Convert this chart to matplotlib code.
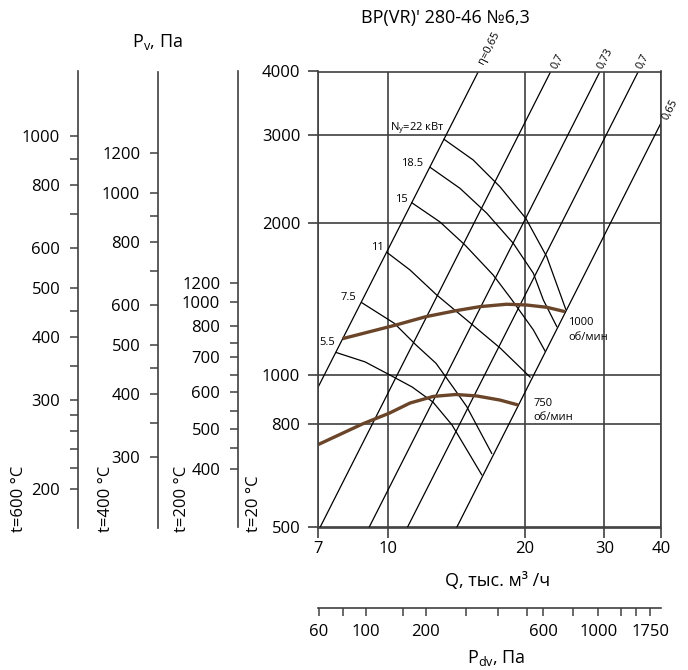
import matplotlib
matplotlib.use('Agg')
import matplotlib.pyplot as plt
from matplotlib.ticker import NullLocator

# --- данные ---
q_ticks = [7, 10, 20, 30, 40]
p_ticks = [500, 800, 1000, 2000, 3000, 4000]

# линии КПД (концы отрезков), Q тыс. м3/ч и Pv Па
eta_labels = ['η=0,65', '0,7', '0,73', '0,7', '0,65']
eta_q = [[15.8, 7.0], [22.83, 7.06], [29.33, 9.06], [35.64, 11.01], [40.0, 14.15]]
eta_p = [[4000, 950], [4000, 500], [4000, 500], [4000, 500], [3163, 500]]

# линии мощности N, кВт
power_labels = ['22', '18.5', '15', '11', '7.5', '5.5']
power_q = [
    [13.27, 15.39, 17.64, 20.11, 22.37, 24.64],
    [12.36, 14.39, 16.49, 18.87, 20.90, 21.99, 23.54],
    [11.26, 13.00, 14.76, 17.04, 18.75, 20.90, 22.18],
    [9.94, 11.16, 12.78, 14.89, 17.64, 20.55],
    [8.73, 10.30, 11.51, 12.74, 13.87, 14.89, 16.91],
    [7.68, 8.88, 10.08, 11.28, 12.54, 13.82, 16.07],
]
power_p = [
    [2936, 2672, 2364, 2048, 1719, 1353],
    [2584, 2348, 2096, 1827, 1594, 1411, 1250],
    [2199, 2014, 1813, 1581, 1411, 1231, 1118],
    [1751, 1618, 1444, 1288, 1134, 993],
    [1394, 1269, 1149, 1057, 950, 868, 701],
    [1110, 1064, 1002, 949, 886, 798, 636],
]

# характеристики вентилятора
n1000_q = [7.92, 10.39, 12.11, 14.10, 15.93, 18.25, 20.20, 22.37, 24.55]
n1000_p = [1183, 1259, 1308, 1344, 1369, 1384, 1379, 1365, 1338]
n750_q = [7.0, 8.77, 10.04, 11.16, 12.56, 14.10, 15.67, 17.64, 19.36]
n750_p = [730, 802, 842, 882, 909, 917, 911, 894, 874]

# шкалы Pv для других температур
t600_major = [200, 300, 400, 500, 600, 800, 1000]
t600_minor = [220, 240, 260, 280, 350, 450, 700, 900]
t400_major = [300, 400, 500, 600, 800, 1000, 1200]
t400_minor = [350, 450, 700, 900]
t200_labels = [400, 500, 600, 700, 800, 1000, 1200]
t200_at = [652, 782, 927, 1087, 1253, 1396, 1523]   # положение по шкале 20 °C
t200_minor_at = [719, 851, 1002, 1158]

# шкала динамического давления
pdv_ticks = [60, 80, 100, 150, 200, 300, 400, 500, 600, 800, 1000, 1250, 1500, 1750]
pdv_at = [7.02, 7.95, 8.92, 10.79, 12.09, 14.81, 17.49, 20.20, 21.99, 25.53, 29.08, 32.59, 35.17, 37.83]
pdv_shown = [60, 100, 200, 600, 1000, 1750]

plt.rcParams['font.family'] = ['Open Sans', 'DejaVu Sans']
plt.rcParams['mathtext.fontset'] = 'custom'
plt.rcParams['mathtext.rm'] = 'Open Sans'
plt.rcParams['mathtext.it'] = 'Open Sans:italic'

W, H = 688, 670
fig = plt.figure(figsize=(W / 100, H / 100), dpi=100)


def fx(px):
    return px / W


def fy(py):
    return 1 - py / H


left, right, top, bottom = 318.3, 661, 71.5, 527.5
frame = '#404040'
brown = '#6b4529'

ax = fig.add_axes([fx(left), fy(bottom), (right - left) / W, (bottom - top) / H])
ax.set_xscale('log')
ax.set_yscale('log')
ax.set_xlim(7, 40)
ax.set_ylim(500, 4000)
ax.set_xticks(q_ticks, labels=[str(v) for v in q_ticks])
ax.set_yticks(p_ticks, labels=[str(v) for v in p_ticks])
ax.xaxis.set_minor_locator(NullLocator())
ax.yaxis.set_minor_locator(NullLocator())
ax.tick_params(direction='out', length=7, width=1.2, color=frame, labelsize=12)
ax.tick_params(axis='y', pad=6)
ax.tick_params(axis='x', pad=3)
ax.grid(True, color=frame, lw=1.2)
for s in ax.spines.values():
    s.set_color(frame)
    s.set_linewidth(1.2)

for q, p in zip(eta_q, eta_p):
    ax.plot(q, p, color='black', lw=0.9)
for q, p in zip(power_q, power_p):
    ax.plot(q, p, color='black', lw=0.9)
ax.plot(n1000_q, n1000_p, color=brown, lw=2.4, solid_capstyle='butt')
ax.plot(n750_q, n750_p, color=brown, lw=2.4, solid_capstyle='butt')

# подписи мощности
ax.text(10.08, 3092, 'N$_\\mathrm{у}$=22 кВт', fontsize=8, ha='left', va='center')
for lab, xy in zip(power_labels[1:], [(11.3, 2630), (10.7, 2230), (9.44, 1795),
                                       (8.14, 1425), (7.32, 1165)]):
    ax.text(xy[0], xy[1], lab, fontsize=8, ha='center', va='center')

# подписи КПД
for lab, xy in zip(eta_labels, [(16.68, 4452), (23.64, 4186), (30.16, 4235),
                                (36.41, 4196), (41.99, 3356)]):
    ax.text(xy[0], xy[1], lab, fontsize=8, ha='center', va='center',
            rotation=63, rotation_mode='anchor')

ax.text(24.96, 1231, '1000\nоб/мин', fontsize=8, ha='left', va='center', linespacing=1.45)
ax.text(20.90, 853, '750\nоб/мин', fontsize=8, ha='left', va='center', linespacing=1.45)


def side_scale(xpx, lo, hi, major_at, major_lab, minor_at):
    a = fig.add_axes([fx(xpx), fy(bottom), 0.0001, (bottom - top) / H])
    a.set_yscale('log')
    a.set_ylim(lo, hi)
    a.patch.set_visible(False)
    for s in ['top', 'right', 'bottom']:
        a.spines[s].set_visible(False)
    a.spines['left'].set_linewidth(1.2)
    a.spines['left'].set_color(frame)
    a.set_xticks([])
    a.set_yticks(major_at, labels=[str(v) for v in major_lab])
    a.set_yticks(minor_at, labels=[''] * len(minor_at), minor=True)
    a.tick_params(axis='y', which='both', direction='out', length=6, width=1.1,
                  color=frame, labelsize=12, pad=7)
    return a


r600 = (273 + 20) / (273 + 600)
r400 = (273 + 20) / (273 + 400)
side_scale(78.3, 500 * r600, 4000 * r600, t600_major, t600_major, t600_minor)
side_scale(158.3, 500 * r400, 4000 * r400, t400_major, t400_major, t400_minor)
side_scale(238.3, 500, 4000, t200_at, t200_labels, t200_minor_at)

for xpx, lab in zip([19, 106, 182, 254], ['t=600 °C', 't=400 °C', 't=200 °C', 't=20 °C']):
    fig.text(fx(xpx), fy(532), lab, rotation=90, ha='center', va='bottom', fontsize=12)

# шкала Pdv
b = fig.add_axes([fx(left), fy(608.3), (right - left) / W, 0.0001])
b.set_xscale('log')
b.set_xlim(7, 40)
b.patch.set_visible(False)
for s in ['top', 'right', 'left']:
    b.spines[s].set_visible(False)
b.spines['bottom'].set_linewidth(1.2)
b.spines['bottom'].set_color(frame)
b.set_yticks([])
b.set_xticks(pdv_at, labels=[str(v) if v in pdv_shown else '' for v in pdv_ticks])
b.xaxis.set_minor_locator(NullLocator())
b.tick_params(axis='x', direction='out', length=6, width=1.1, color=frame,
              labelsize=12, pad=5)

fig.text(fx(445), fy(18), "ВР(VR)' 280-46 №6,3", fontsize=13, ha='center', va='center')
fig.text(fx(157), fy(42.5), 'P$_\\mathrm{v}$, Па', fontsize=13, ha='center', va='center')
fig.text(fx(498), fy(581), 'Q, тыс. м³ /ч', fontsize=13, ha='center', va='center')
fig.text(fx(496), fy(658), 'P$_\\mathrm{dv}$, Па', fontsize=13, ha='center', va='center')

fig.savefig('out.png', dpi=100)
